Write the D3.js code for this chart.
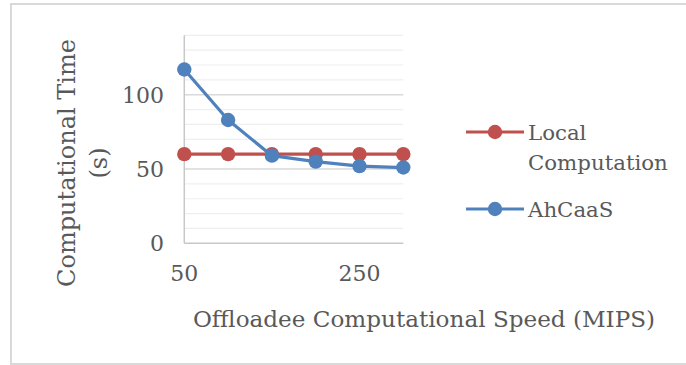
<!DOCTYPE html>
<html>
<head>
<meta charset="utf-8">
<script src="https://cdn.jsdelivr.net/npm/d3@7"></script>
<style>
  html, body { margin: 0; padding: 0; background: #fff; }
  svg { display: block; }
  text { font-family: "DejaVu Serif", "Liberation Serif", serif; fill: #595959; }
</style>
</head>
<body>
<svg id="chart" width="686" height="365"></svg>
<script>
// Offloadee speed categories (MIPS)
const speeds = [50, 100, 150, 200, 250, 300];
// Computational time (s) per series
const localComputation = [60, 60, 60, 60, 60, 60];
const ahCaaS = [117, 83, 59, 55, 52, 51];
const seriesNames = ["Local Computation", "AhCaaS"];
const seriesColors = ["#C0504D", "#4F81BD"];
const yTicks = [0, 50, 100];
const xTickLabels = [50, 250];

const svg = d3.select("#chart");

// outer frame
svg.append("rect")
  .attr("x", 11).attr("y", 4)
  .attr("width", 690).attr("height", 360)
  .attr("fill", "none").attr("stroke", "#d9d9d9").attr("stroke-width", 2);

const x = d3.scalePoint().domain(speeds).range([184.3, 403.3]);
const y = d3.scaleLinear().domain([0, 140]).range([243.3, 35.3]);

const g = svg.append("g");

// minor gridlines every 10, major every 50
const gridVals = d3.range(10, 141, 10);
g.selectAll("line.grid").data(gridVals).join("line")
  .attr("class", "grid")
  .attr("x1", x(speeds[0])).attr("x2", x(speeds[speeds.length - 1]))
  .attr("y1", d => y(d)).attr("y2", d => y(d))
  .attr("stroke", d => d % 50 === 0 ? "#d9d9d9" : "#efefef")
  .attr("stroke-width", d => d % 50 === 0 ? 1.5 : 1.2);

// axes lines
g.append("line")
  .attr("x1", x(speeds[0])).attr("x2", x(speeds[0]))
  .attr("y1", y(140)).attr("y2", y(0))
  .attr("stroke", "#c8c8c8").attr("stroke-width", 1.5);
g.append("line")
  .attr("x1", x(speeds[0])).attr("x2", x(speeds[speeds.length - 1]))
  .attr("y1", y(0)).attr("y2", y(0))
  .attr("stroke", "#c8c8c8").attr("stroke-width", 1.5);

// y tick labels
g.selectAll("text.ytick").data(yTicks).join("text")
  .attr("class", "ytick")
  .attr("x", 164).attr("y", d => y(d) + 8)
  .attr("text-anchor", "end")
  .attr("font-size", 22)
  .text(d => d);

// x tick labels
g.selectAll("text.xtick").data(xTickLabels).join("text")
  .attr("class", "xtick")
  .attr("x", d => x(d)).attr("y", 281)
  .attr("text-anchor", "middle")
  .attr("font-size", 22)
  .text(d => d);

// axis titles
svg.append("text")
  .attr("x", 424).attr("y", 327)
  .attr("text-anchor", "middle")
  .attr("font-size", 23.1)
  .text("Offloadee Computational Speed (MIPS)");

const yTitle = svg.append("text")
  .attr("transform", "translate(0,163) rotate(-90)")
  .attr("text-anchor", "middle")
  .attr("font-size", 24);
yTitle.append("tspan").attr("x", 0).attr("y", 75).text("Computational Time");
yTitle.append("tspan").attr("x", 0).attr("y", 107).text("(s)");

// series
const series = [localComputation, ahCaaS];
const line = d3.line().x((d, i) => x(speeds[i])).y(d => y(d));
series.forEach((vals, si) => {
  g.append("path")
    .datum(vals)
    .attr("d", line)
    .attr("fill", "none")
    .attr("stroke", seriesColors[si])
    .attr("stroke-width", 3.2)
    .attr("stroke-linejoin", "round");
  g.selectAll(null).data(vals).join("circle")
    .attr("cx", (d, i) => x(speeds[i]))
    .attr("cy", d => y(d))
    .attr("r", 7.2)
    .attr("fill", seriesColors[si]);
});

// legend
const legendRows = [
  { y: 132, lines: ["Local", "Computation"] },
  { y: 209, lines: ["AhCaaS"] }
];
legendRows.forEach((row, i) => {
  const lg = svg.append("g");
  lg.append("line")
    .attr("x1", 466).attr("x2", 524)
    .attr("y1", row.y).attr("y2", row.y)
    .attr("stroke", seriesColors[i]).attr("stroke-width", 3.2);
  lg.append("circle")
    .attr("cx", 495).attr("cy", row.y).attr("r", 7.2)
    .attr("fill", seriesColors[i]);
  row.lines.forEach((t, j) => {
    lg.append("text")
      .attr("x", 528).attr("y", row.y + 8 + j * 30)
      .attr("font-size", 21.3)
      .text(t);
  });
});
</script>
</body>
</html>
